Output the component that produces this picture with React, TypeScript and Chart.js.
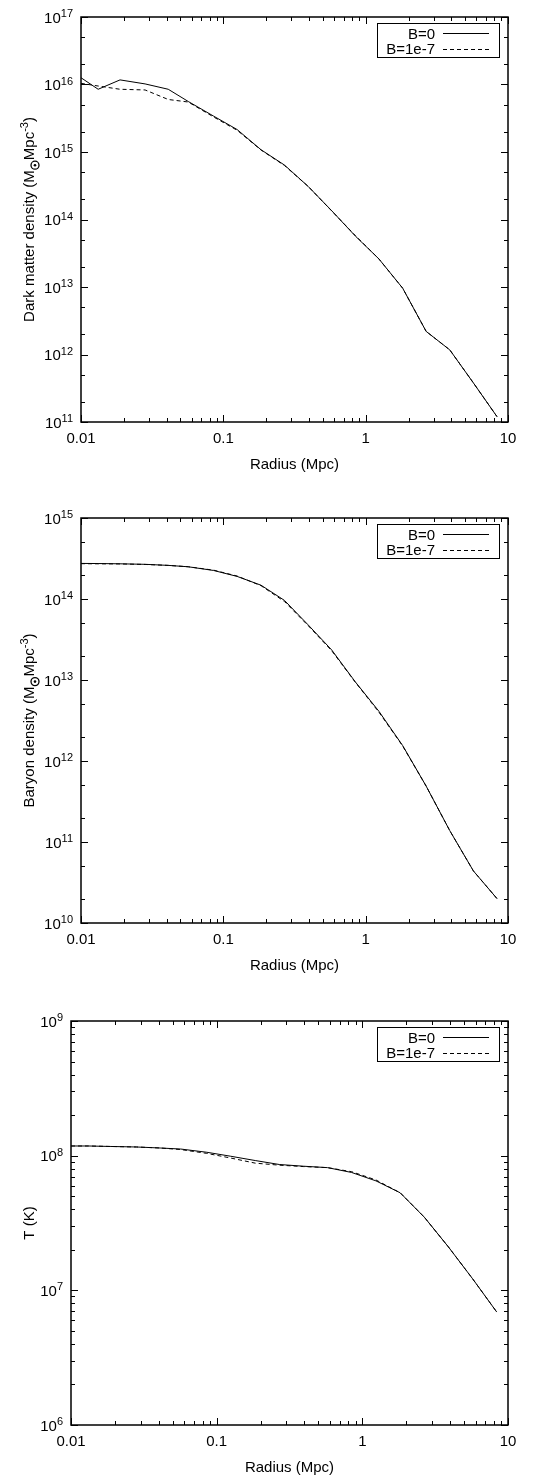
import React, { useEffect, useRef } from "react";
import { Chart, registerables } from "chart.js";

Chart.register(...registerables);

// ---------- data ----------
const RADIUS = [0.01, 0.0132, 0.0188, 0.0282, 0.041, 0.0567, 0.0855, 0.125, 0.184, 0.269, 0.394, 0.577, 0.845, 1.24, 1.82, 2.66, 3.9, 5.71, 8.37];

const DM_B0 = [1.26e16, 8.5e15, 1.17e16, 1.02e16, 8.5e15, 5.6e15, 3.4e15, 2.15e15, 1.08e15, 6.4e14, 3.1e14, 1.35e14, 5.7e13, 2.6e13, 9.6e12, 2.2e12, 1.17e12, 3.8e11, 1.2e11];
const DM_B7 = [1.04e16, 9.5e15, 8.5e15, 8.3e15, 6.0e15, 5.5e15, 3.3e15, 2.1e15, 1.07e15, 6.3e14, 3.1e14, 1.34e14, 5.8e13, 2.6e13, 9.6e12, 2.2e12, 1.17e12, 3.8e11, 1.2e11];

const BARYON_B0 = [2.75e14, 2.74e14, 2.72e14, 2.68e14, 2.6e14, 2.5e14, 2.25e14, 1.9e14, 1.48e14, 9.6e13, 4.8e13, 2.35e13, 9.5e12, 4.1e12, 1.55e12, 4.9e11, 1.38e11, 4.4e10, 2.0e10];
const BARYON_B7 = [2.73e14, 2.72e14, 2.71e14, 2.67e14, 2.6e14, 2.5e14, 2.27e14, 1.92e14, 1.46e14, 9.3e13, 4.7e13, 2.3e13, 9.4e12, 4.0e12, 1.53e12, 4.9e11, 1.38e11, 4.4e10, 2.0e10];

const T_B0 = [1.18e8, 1.18e8, 1.17e8, 1.16e8, 1.14e8, 1.12e8, 1.06e8, 9.9e7, 9.2e7, 8.6e7, 8.35e7, 8.15e7, 7.5e7, 6.5e7, 5.3e7, 3.5e7, 2.1e7, 1.22e7, 6.9e6];
const T_B7 = [1.18e8, 1.18e8, 1.17e8, 1.16e8, 1.14e8, 1.11e8, 1.04e8, 9.6e7, 8.8e7, 8.5e7, 8.3e7, 8.15e7, 7.6e7, 6.6e7, 5.3e7, 3.5e7, 2.1e7, 1.22e7, 6.9e6];

const SERIES_LABELS = ["B=0", "B=1e-7"];

// ---------- ticks ----------
const X_TICKS = [0.01, 0.1, 1, 10];
const X_TICK_LABELS = ["0.01", "0.1", "1", "10"];
const X_MINOR = [2, 3, 4, 5, 6, 7, 8, 9];

const DM_Y_EXP = [11, 12, 13, 14, 15, 16, 17];
const DM_Y_MINOR = [2, 5];
const BARYON_Y_EXP = [10, 11, 12, 13, 14, 15];
const BARYON_Y_MINOR = [2, 5];
const T_Y_EXP = [6, 7, 8, 9];
const T_Y_MINOR = [2, 3, 4, 5, 6, 7, 8, 9];

const X_TITLE = "Radius (Mpc)";

type Part = { text: string; kind: "n" | "sup" | "sun" };

const DM_TITLE: Part[] = [
  { text: "Dark matter density (M", kind: "n" },
  { text: "", kind: "sun" },
  { text: "Mpc", kind: "n" },
  { text: "-3", kind: "sup" },
  { text: ")", kind: "n" },
];
const BARYON_TITLE: Part[] = [
  { text: "Baryon density (M", kind: "n" },
  { text: "", kind: "sun" },
  { text: "Mpc", kind: "n" },
  { text: "-3", kind: "sup" },
  { text: ")", kind: "n" },
];
const T_TITLE: Part[] = [{ text: "T (K)", kind: "n" }];

const FONT = '"Liberation Sans", Arial, Helvetica, sans-serif';
const MAIN = 15;
const SMALL = 11;

type PanelCfg = {
  top: number;
  height: number;
  pad: { left: number; right: number; top: number; bottom: number };
  b0: number[];
  b7: number[];
  yExp: number[];
  yMinor: number[];
  yTitle: Part[];
  yTitleX: number;
};

const PANELS: PanelCfg[] = [
  { top: 0, height: 490, pad: { left: 81, right: 27, top: 17, bottom: 68 }, b0: DM_B0, b7: DM_B7, yExp: DM_Y_EXP, yMinor: DM_Y_MINOR, yTitle: DM_TITLE, yTitleX: 34 },
  { top: 490, height: 500, pad: { left: 81, right: 27, top: 28, bottom: 67 }, b0: BARYON_B0, b7: BARYON_B7, yExp: BARYON_Y_EXP, yMinor: BARYON_Y_MINOR, yTitle: BARYON_TITLE, yTitleX: 34 },
  { top: 990, height: 488, pad: { left: 71, right: 27, top: 31, bottom: 53 }, b0: T_B0, b7: T_B7, yExp: T_Y_EXP, yMinor: T_Y_MINOR, yTitle: T_TITLE, yTitleX: 34 },
];

function partWidth(ctx: CanvasRenderingContext2D, p: Part) {
  if (p.kind === "sun") return 10;
  ctx.font = `${p.kind === "sup" ? SMALL : MAIN}px ${FONT}`;
  return ctx.measureText(p.text).width;
}

function makeDecorPlugin(cfg: PanelCfg) {
  return {
    id: "decor",
    afterDraw(chart: any) {
      const ctx: CanvasRenderingContext2D = chart.ctx;
      const a = chart.chartArea;
      const xs = chart.scales.x;
      const ys = chart.scales.y;
      ctx.save();
      ctx.strokeStyle = "#000";
      ctx.fillStyle = "#000";

      // ticks
      ctx.lineWidth = 1;
      ctx.beginPath();
      const xMinLog = Math.log10(X_TICKS[0]);
      const xMaxLog = Math.log10(X_TICKS[X_TICKS.length - 1]);
      for (let d = xMinLog; d <= xMaxLog; d++) {
        const base = Math.pow(10, d);
        const mults = d === xMaxLog ? [1] : [1, ...X_MINOR];
        for (const m of mults) {
          const px = Math.round(xs.getPixelForValue(m * base)) + 0.5;
          const len = m === 1 ? 7 : 4;
          ctx.moveTo(px, a.bottom);
          ctx.lineTo(px, a.bottom - len);
          ctx.moveTo(px, a.top);
          ctx.lineTo(px, a.top + len);
        }
      }
      const yE = cfg.yExp;
      for (let i = 0; i < yE.length; i++) {
        const base = Math.pow(10, yE[i]);
        const mults = i === yE.length - 1 ? [1] : [1, ...cfg.yMinor];
        for (const m of mults) {
          const py = Math.round(ys.getPixelForValue(m * base)) + 0.5;
          const len = m === 1 ? 7 : 4;
          ctx.moveTo(a.left, py);
          ctx.lineTo(a.left + len, py);
          ctx.moveTo(a.right, py);
          ctx.lineTo(a.right - len, py);
        }
      }
      ctx.stroke();

      // frame
      ctx.lineWidth = 1.5;
      ctx.strokeRect(a.left, a.top, a.right - a.left, a.bottom - a.top);

      // x tick labels
      ctx.font = `${MAIN}px ${FONT}`;
      ctx.textAlign = "center";
      ctx.textBaseline = "alphabetic";
      X_TICKS.forEach((v, i) => {
        ctx.fillText(X_TICK_LABELS[i], xs.getPixelForValue(v), a.bottom + 21);
      });

      // y tick labels 10^n
      yE.forEach((e) => {
        const py = ys.getPixelForValue(Math.pow(10, e));
        const rx = a.left - 8;
        ctx.textAlign = "right";
        ctx.font = `${SMALL}px ${FONT}`;
        const es = String(e);
        const ew = ctx.measureText(es).width;
        ctx.fillText(es, rx, py);
        ctx.font = `${MAIN}px ${FONT}`;
        ctx.fillText("10", rx - ew, py + 5.5);
      });

      // x title
      ctx.font = `${MAIN}px ${FONT}`;
      ctx.textAlign = "center";
      ctx.fillText(X_TITLE, (a.left + a.right) / 2, a.bottom + 47);

      // y title (rotated)
      ctx.save();
      ctx.translate(cfg.yTitleX, (a.top + a.bottom) / 2);
      ctx.rotate(-Math.PI / 2);
      ctx.textAlign = "left";
      let total = 0;
      cfg.yTitle.forEach((p) => (total += partWidth(ctx, p)));
      let cx = -total / 2;
      cfg.yTitle.forEach((p) => {
        const w = partWidth(ctx, p);
        if (p.kind === "sun") {
          ctx.lineWidth = 1.3;
          ctx.beginPath();
          ctx.arc(cx + w / 2, 1, 4, 0, Math.PI * 2);
          ctx.stroke();
          ctx.beginPath();
          ctx.arc(cx + w / 2, 1, 1.3, 0, Math.PI * 2);
          ctx.fill();
        } else if (p.kind === "sup") {
          ctx.font = `${SMALL}px ${FONT}`;
          ctx.fillText(p.text, cx, -6);
        } else {
          ctx.font = `${MAIN}px ${FONT}`;
          ctx.fillText(p.text, cx, 0);
        }
        cx += w;
      });
      ctx.restore();

      // legend
      const bx = a.right - 131;
      const by = a.top + 6;
      const bw = 122;
      const bh = 34;
      ctx.lineWidth = 1;
      ctx.strokeRect(bx + 0.5, by + 0.5, bw, bh);
      ctx.font = `${MAIN}px ${FONT}`;
      ctx.textAlign = "right";
      chart.data.datasets.forEach((ds: any, i: number) => {
        const ry = by + 10 + i * 15.5;
        ctx.fillText(ds.label, bx + 58, ry + 5.5);
        ctx.save();
        ctx.lineWidth = 1;
        ctx.setLineDash(ds.borderDash || []);
        ctx.beginPath();
        ctx.moveTo(bx + 66, Math.round(ry) + 0.5);
        ctx.lineTo(bx + 112, Math.round(ry) + 0.5);
        ctx.stroke();
        ctx.restore();
      });

      ctx.restore();
    },
  };
}

function Panel({ cfg }: { cfg: PanelCfg }) {
  const ref = useRef<HTMLCanvasElement | null>(null);
  useEffect(() => {
    if (!ref.current) return;
    const yMin = Math.pow(10, cfg.yExp[0]);
    const yMax = Math.pow(10, cfg.yExp[cfg.yExp.length - 1]);
    const chart = new Chart(ref.current, {
      type: "line",
      data: {
        datasets: [
          {
            label: SERIES_LABELS[0],
            data: RADIUS.map((r, i) => ({ x: r, y: cfg.b0[i] })),
            borderColor: "#000",
            borderWidth: 1,
            pointRadius: 0,
            fill: false,
            tension: 0,
          },
          {
            label: SERIES_LABELS[1],
            data: RADIUS.map((r, i) => ({ x: r, y: cfg.b7[i] })),
            borderColor: "#000",
            borderWidth: 1,
            borderDash: [4, 3],
            pointRadius: 0,
            fill: false,
            tension: 0,
          },
        ],
      },
      options: {
        responsive: false,
        animation: false,
        devicePixelRatio: 1,
        layout: { padding: cfg.pad },
        plugins: { legend: { display: false }, tooltip: { enabled: false } },
        events: [],
        scales: {
          x: { type: "logarithmic", min: X_TICKS[0], max: X_TICKS[X_TICKS.length - 1], display: false },
          y: { type: "logarithmic", min: yMin, max: yMax, display: false },
        },
      },
      plugins: [makeDecorPlugin(cfg)],
    } as any);
    return () => chart.destroy();
  }, [cfg]);
  return (
    <canvas
      ref={ref}
      width={535}
      height={cfg.height}
      style={{ position: "absolute", left: 0, top: cfg.top, width: 535, height: cfg.height }}
    />
  );
}

export default function App() {
  return (
    <div style={{ position: "absolute", left: 0, top: 0, width: 535, height: 1478, background: "#fff" }}>
      {PANELS.map((p, i) => (
        <Panel key={i} cfg={p} />
      ))}
    </div>
  );
}
